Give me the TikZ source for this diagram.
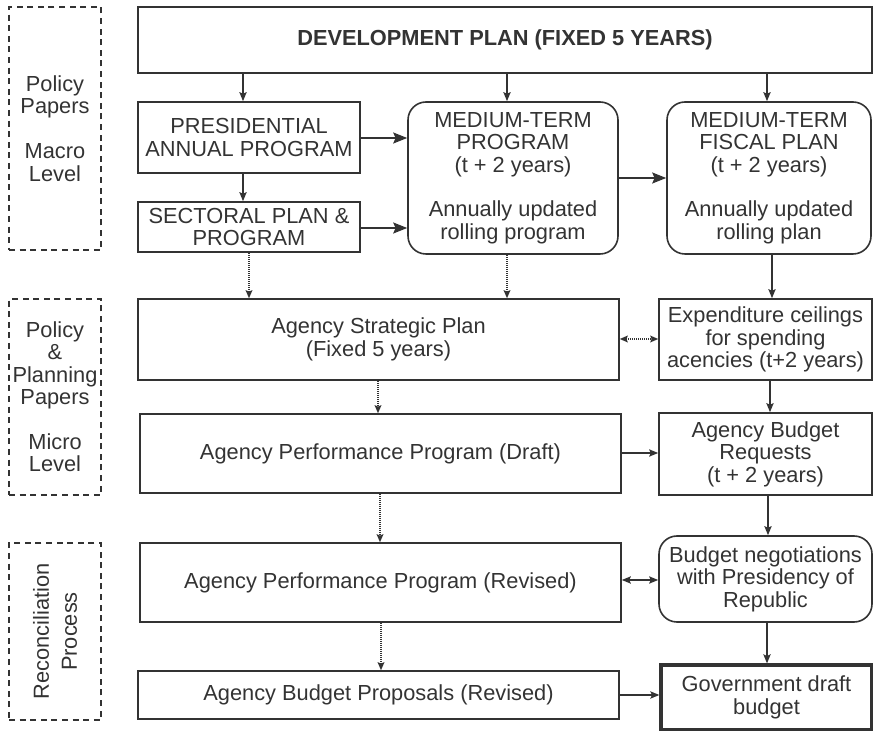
\documentclass[tikz,border=0pt]{standalone}
\usepackage{fontspec}
\setmainfont{Liberation Sans}
\usetikzlibrary{arrows.meta}

\definecolor{ink}{rgb}{0.2,0.2,0.2}

\tikzset{
  box/.style 2 args={draw=ink, line width=0.8pt, text=ink, align=center, inner sep=0pt,
    minimum width=#1*0.5pt, minimum height=#2*0.5pt,
    font=\fontsize{10.9}{11.2}\selectfont},
  rbox/.style 2 args={box={#1}{#2}, rounded corners=9pt},
  sidebox/.style 2 args={box={#1}{#2}, dash pattern=on 3pt off 2.3pt},
  arr/.style={draw=ink, line width=0.8pt, -{Stealth[length=4.5pt,width=3.6pt,inset=0.8pt]}},
  bigarr/.style={draw=ink, line width=0.8pt, -{Stealth[length=7pt,width=5.5pt,inset=1.2pt]}},
  dotarr/.style={draw=ink, line width=0.7pt, dash pattern=on 0.5pt off 0.5pt,
    -{Stealth[length=4pt,width=3.4pt,inset=0.7pt,sep=0pt]}},
  dotboth/.style={dotarr, {Stealth[length=4pt,width=3.4pt,inset=0.7pt]}-{Stealth[length=4pt,width=3.4pt,inset=0.7pt]}},
  both/.style={arr, {Stealth[length=4.5pt,width=3.6pt,inset=0.8pt]}-{Stealth[length=4.5pt,width=3.6pt,inset=0.8pt]}}
}

\begin{document}
\begin{tikzpicture}[x=0.5pt,y=0.5pt,yscale=-1,xscale=1]
\useasboundingbox (0,0) rectangle (873,731);

%Shape: side labels
\node[sidebox={92}{243}] (macro) at (55,128.5) {Policy\\Papers\\[11.2pt]Macro\\Level};
\node[sidebox={92}{196}] (micro) at (55,397) {Policy\\\&\\Planning\\Papers\\[11.2pt]Micro\\Level};
\node[sidebox={92}{177}] (recon) at (55,631.5) {};
\node[text=ink, align=center, rotate=90, font=\fontsize{10.9}{14}\selectfont] (recontxt) at (recon) {Reconciliation\\Process};

%Shape: macro level boxes
\node[box={734}{66}] (dev) at (505,40) {\textbf{DEVELOPMENT PLAN (FIXED 5 YEARS)}};
\node[box={222}{71}] (pres) at (249,137.5) {PRESIDENTIAL\\ANNUAL PROGRAM};
\node[box={222}{50}] (sect) at (249,227) {SECTORAL PLAN \&\\PROGRAM};
\node[rbox={210}{152}] (mtp) at (513,178) {MEDIUM-TERM\\PROGRAM\\(t + 2 years)\\[11.2pt]Annually updated\\rolling program};
\node[rbox={204}{152}] (mtfp) at (769,178) {MEDIUM-TERM\\FISCAL PLAN\\(t + 2 years)\\[11.2pt]Annually updated\\rolling plan};

%Shape: micro level boxes
\node[box={481}{81}] (asp) at (378.5,339.5) {Agency Strategic Plan\\(Fixed 5 years)};
\node[box={213}{81}] (exp) at (765.5,339.5) {Expenditure ceilings\\for spending\\acencies (t+2 years)};
\node[box={481}{79}] (apd) at (380.5,453.5) {Agency Performance Program (Draft)};
\node[box={213}{82}] (abr) at (765.5,454) {Agency Budget\\Requests\\(t + 2 years)};

%Shape: reconciliation boxes
\node[box={481}{79}] (apr) at (380.5,582.5) {Agency Performance Program (Revised)};
\node[rbox={213}{86}] (bn) at (765.5,579) {Budget negotiations\\with Presidency of\\Republic};
\node[box={481}{48}] (abp) at (378.5,695) {Agency Budget Proposals (Revised)};
\node[box={211}{65}, line width=1.6pt] (gdb) at (766.5,697.5) {Government draft\\budget};

%Straight Lines
\draw[arr] (dev.south -| 243,0) -- (pres.north -| 243,0);
\draw[arr] (dev.south -| 507,0) -- (mtp.north -| 507,0);
\draw[arr] (dev.south -| 767,0) -- (mtfp.north -| 767,0);
\draw[arr] (pres.south -| 243,0) -- (sect.north -| 243,0);
\draw[bigarr] (pres.east |- 0,138) -- (mtp.west |- 0,138);
\draw[bigarr] (sect.east |- 0,228) -- (mtp.west |- 0,228);
\draw[bigarr] (mtp.east |- 0,178) -- (mtfp.west |- 0,178);
\draw[dotarr] (sect.south) -- (asp.north -| sect.south);
\draw[dotarr] (mtp.south -| 507,0) -- (asp.north -| 507,0);
\draw[arr] (mtfp.south -| 772,0) -- (exp.north -| 772,0);
\draw[dotboth] (asp.east |- 0,339) -- (exp.west |- 0,339);
\draw[dotarr] (asp.south -| 378,0) -- (apd.north -| 378,0);
\draw[arr] (exp.south -| 770,0) -- (abr.north -| 770,0);
\draw[arr] (apd.east |- 0,453) -- (abr.west |- 0,453);
\draw[dotarr] (apd.south -| 380,0) -- (apr.north -| 380,0);
\draw[arr] (abr.south -| 768,0) -- (bn.north -| 768,0);
\draw[both] (apr.east |- 0,580) -- (bn.west |- 0,580);
\draw[dotarr] (apr.south -| 381,0) -- (abp.north -| 381,0);
\draw[arr] (bn.south -| 767,0) -- (gdb.north -| 767,0);
\draw[arr] (abp.east |- 0,695) -- (gdb.west |- 0,695);

\end{tikzpicture}
\end{document}
